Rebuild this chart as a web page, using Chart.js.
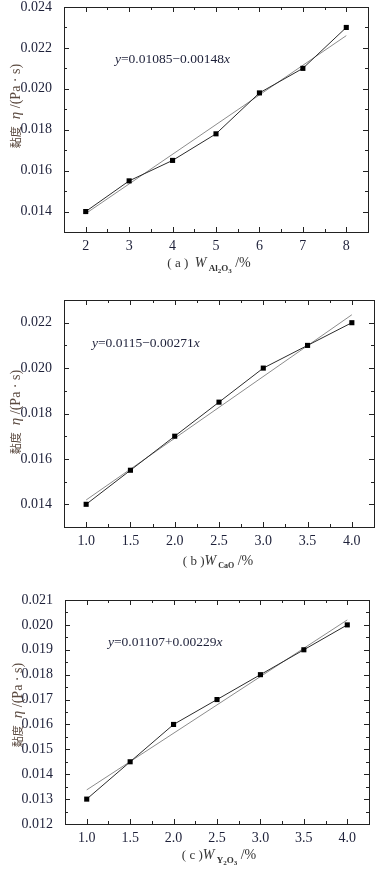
<!doctype html>
<html lang="zh">
<head>
<meta charset="UTF-8">
<title>黏度</title>
<script src="https://cdn.jsdelivr.net/npm/chart.js"></script>
<style>
  body { margin: 0; background: #fff; }
  canvas { position: absolute; left: 0; }
</style>
</head>
<body>
<canvas id="chartA" width="383" height="290" style="top:0"></canvas>
<canvas id="chartB" width="383" height="290" style="top:290px"></canvas>
<canvas id="chartC" width="383" height="292" style="top:580px"></canvas>
<script>
  // (a) Al2O3
  const aX = [2, 3, 4, 5, 6, 7, 8];
  const aY = [0.0140, 0.0155, 0.0165, 0.0178, 0.0198, 0.0210, 0.0230];
  const aFitX = [2, 8];
  const aFitY = [0.01390, 0.02260];
  const aXTicks = [2, 3, 4, 5, 6, 7, 8];
  const aYTicks = [0.014, 0.016, 0.018, 0.020, 0.022, 0.024];

  // (b) CaO
  const bX = [1.0, 1.5, 2.0, 2.5, 3.0, 3.5, 4.0];
  const bY = [0.0140, 0.0155, 0.0170, 0.0185, 0.0200, 0.0210, 0.0220];
  const bFitX = [1.0, 4.0];
  const bFitY = [0.01419, 0.02235];
  const bXTicks = [1.0, 1.5, 2.0, 2.5, 3.0, 3.5, 4.0];
  const bYTicks = [0.014, 0.016, 0.018, 0.020, 0.022];

  // (c) Y2O3
  const cX = [1.0, 1.5, 2.0, 2.5, 3.0, 3.5, 4.0];
  const cY = [0.0130, 0.0145, 0.0160, 0.0170, 0.0180, 0.0190, 0.0200];
  const cFitX = [1.0, 4.0];
  const cFitY = [0.01337, 0.02020];
  const cXTicks = [1.0, 1.5, 2.0, 2.5, 3.0, 3.5, 4.0];
  const cYTicks = [0.012, 0.013, 0.014, 0.015, 0.016, 0.017, 0.018, 0.019, 0.020, 0.021];

  const SERIF = '"Liberation Serif", "DejaVu Serif", serif';
  const CJK = '"Noto Sans CJK SC", sans-serif';
  const TICK_COLOR = '#1d2039';

  // minor ticks sit halfway between the major ones
  function minors(majors) {
    const step = majors[1] - majors[0];
    const out = [majors[0] - step / 2];
    majors.forEach(v => out.push(v + step / 2));
    return out;
  }

  // box round the plot plus inward tick marks on all four sides
  const frame = {
    id: 'frame',
    afterDraw(chart) {
      const {ctx, chartArea: a, scales: {x, y}} = chart;
      ctx.save();
      ctx.strokeStyle = '#222';
      ctx.lineWidth = 1;
      ctx.strokeRect(a.left + 0.5, a.top + 0.5, a.right - a.left, a.bottom - a.top);

      const xt = x.ticks.map(t => t.value);
      const yt = y.ticks.map(t => t.value);
      const inX = v => v > x.min + 1e-9 && v < x.max - 1e-9;
      const inY = v => v > y.min + 1e-9 && v < y.max - 1e-9;

      ctx.beginPath();
      const xMark = (v, len) => {
        const px = Math.round(x.getPixelForValue(v)) + 0.5;
        ctx.moveTo(px, a.bottom); ctx.lineTo(px, a.bottom - len);
        ctx.moveTo(px, a.top); ctx.lineTo(px, a.top + len);
      };
      const yMark = (v, len) => {
        const py = Math.round(y.getPixelForValue(v)) + 0.5;
        ctx.moveTo(a.left, py); ctx.lineTo(a.left + len, py);
        ctx.moveTo(a.right, py); ctx.lineTo(a.right - len, py);
      };
      xt.filter(inX).forEach(v => xMark(v, 5));
      minors(xt).filter(inX).forEach(v => xMark(v, 3));
      yt.filter(inY).forEach(v => yMark(v, 5));
      minors(yt).filter(inY).forEach(v => yMark(v, 3));
      ctx.stroke();
      ctx.restore();
    }
  };

  function drawParts(ctx, parts, x, y, align) {
    let total = 0;
    parts.forEach(p => { ctx.font = p.f; p.w = ctx.measureText(p.t).width; total += p.w; });
    let cx = align === 'center' ? x - total / 2 : x;
    parts.forEach(p => {
      ctx.font = p.f;
      ctx.fillText(p.t, cx, y + (p.dy || 0));
      cx += p.w;
    });
  }

  // equation, axis titles with italics and subscripts
  const texts = {
    id: 'texts',
    afterDraw(chart, args, o) {
      const ctx = chart.ctx;
      ctx.save();
      ctx.textBaseline = 'alphabetic';
      ctx.textAlign = 'left';

      ctx.fillStyle = TICK_COLOR;
      drawParts(ctx, o.eq.parts, o.eq.x, o.eq.y, 'left');

      ctx.fillStyle = '#333';
      drawParts(ctx, o.xTitle.parts, o.xTitle.x, o.xTitle.y, 'center');

      ctx.fillStyle = '#5b4a40';
      ctx.translate(o.yTitle.x, o.yTitle.y);
      ctx.rotate(-Math.PI / 2);
      drawParts(ctx, o.yTitle.parts, 0, 5, 'center');
      ctx.restore();
    }
  };

  function eqParts(body) {
    return [
      {t: 'y', f: 'italic 13.5px ' + SERIF},
      {t: body, f: '13.5px ' + SERIF},
      {t: 'x', f: 'italic 13.5px ' + SERIF}
    ];
  }

  const yTitleParts = [
    {t: '黏度', f: '11px ' + CJK},
    {t: '  ', f: '14px ' + SERIF},
    {t: 'η', f: 'italic 15px ' + SERIF},
    {t: ' /(Pa · s)', f: '14px ' + SERIF}
  ];

  function makeChart(id, c) {
    const H = document.getElementById(id).height;
    return new Chart(document.getElementById(id), {
      type: 'line',
      data: {
        datasets: [
          {
            data: c.fitX.map((v, i) => ({x: v, y: c.fitY[i]})),
            borderColor: '#8c8c8c',
            borderWidth: 1,
            pointRadius: 0,
            order: 2
          },
          {
            data: c.xs.map((v, i) => ({x: v, y: c.ys[i]})),
            borderColor: '#2b2b2b',
            borderWidth: 1,
            pointStyle: 'rect',
            pointRadius: 3.6,
            pointBorderWidth: 0,
            pointBackgroundColor: '#000',
            order: 1
          }
        ]
      },
      options: {
        responsive: false,
        animation: false,
        events: [],
        layout: {padding: {left: 0, top: c.area.top, right: 383 - c.area.right, bottom: 0}},
        plugins: {
          legend: {display: false},
          tooltip: {enabled: false},
          texts: {eq: c.eq, xTitle: c.xTitle, yTitle: {x: c.yTitle.x, y: c.yTitle.y, parts: yTitleParts}}
        },
        scales: {
          x: {
            type: 'linear',
            min: c.xMin,
            max: c.xMax,
            grid: {display: false},
            border: {display: false},
            afterBuildTicks: s => { s.ticks = c.xTicks.map(v => ({value: v})); },
            afterFit: s => { s.height = H - c.area.bottom; s.paddingLeft = 0; s.paddingRight = 0; },
            ticks: {
              autoSkip: false,
              maxRotation: 0,
              padding: -2,
              color: TICK_COLOR,
              font: {family: SERIF, size: 14},
              callback: v => c.xDec ? v.toFixed(1) : String(v)
            }
          },
          y: {
            min: c.yMin,
            max: c.yMax,
            grid: {display: false},
            border: {display: false},
            afterBuildTicks: s => { s.ticks = c.yTicks.map(v => ({value: v})); },
            afterFit: s => { s.width = c.area.left; s.paddingTop = 0; s.paddingBottom = 0; },
            ticks: {
              padding: 4,
              color: TICK_COLOR,
              font: {family: SERIF, size: 14},
              callback: v => v.toFixed(3)
            }
          }
        }
      },
      plugins: [frame, texts]
    });
  }

  makeChart('chartA', {
    xs: aX, ys: aY, fitX: aFitX, fitY: aFitY,
    xTicks: aXTicks, yTicks: aYTicks, xDec: false,
    xMin: 1.5, xMax: 8.5, yMin: 0.013, yMax: 0.024,
    area: {left: 64, right: 368, top: 7, bottom: 232},
    eq: {x: 115, y: 63, parts: eqParts('=0.01085\u22120.00148')},
    xTitle: {x: 209, y: 267, parts: [
      {t: '( a )  ', f: '13px ' + SERIF},
      {t: 'W', f: 'italic 14px ' + SERIF},
      {t: ' Al', f: 'bold 9px ' + SERIF, dy: 4},
      {t: '2', f: 'bold 7px ' + SERIF, dy: 6},
      {t: 'O', f: 'bold 9px ' + SERIF, dy: 4},
      {t: '3', f: 'bold 7px ' + SERIF, dy: 6},
      {t: ' /%', f: '14px ' + SERIF}
    ]},
    yTitle: {x: 15, y: 106}
  });

  makeChart('chartB', {
    xs: bX, ys: bY, fitX: bFitX, fitY: bFitY,
    xTicks: bXTicks, yTicks: bYTicks, xDec: true,
    xMin: 0.75, xMax: 4.25, yMin: 0.013, yMax: 0.023,
    area: {left: 64, right: 374, top: 10, bottom: 237},
    eq: {x: 92, y: 57, parts: eqParts('=0.0115\u22120.00271')},
    xTitle: {x: 218, y: 275, parts: [
      {t: '( b )', f: '13px ' + SERIF},
      {t: 'W', f: 'italic 14px ' + SERIF},
      {t: ' CaO', f: 'bold 8px ' + SERIF, dy: 3},
      {t: ' /%', f: '14px ' + SERIF}
    ]},
    yTitle: {x: 15, y: 122}
  });

  makeChart('chartC', {
    xs: cX, ys: cY, fitX: cFitX, fitY: cFitY,
    xTicks: cXTicks, yTicks: cYTicks, xDec: true,
    xMin: 0.75, xMax: 4.25, yMin: 0.012, yMax: 0.021,
    area: {left: 65, right: 369, top: 20, bottom: 244},
    eq: {x: 108, y: 66, parts: eqParts('=0.01107+0.00229')},
    xTitle: {x: 219, y: 279, parts: [
      {t: '( c )', f: '13px ' + SERIF},
      {t: 'W', f: 'italic 14px ' + SERIF},
      {t: ' Y', f: 'bold 9px ' + SERIF, dy: 4},
      {t: '2', f: 'bold 7px ' + SERIF, dy: 6},
      {t: 'O', f: 'bold 9px ' + SERIF, dy: 4},
      {t: '3', f: 'bold 7px ' + SERIF, dy: 6},
      {t: ' /%', f: '14px ' + SERIF}
    ]},
    yTitle: {x: 17, y: 125}
  });
</script>
</body>
</html>
